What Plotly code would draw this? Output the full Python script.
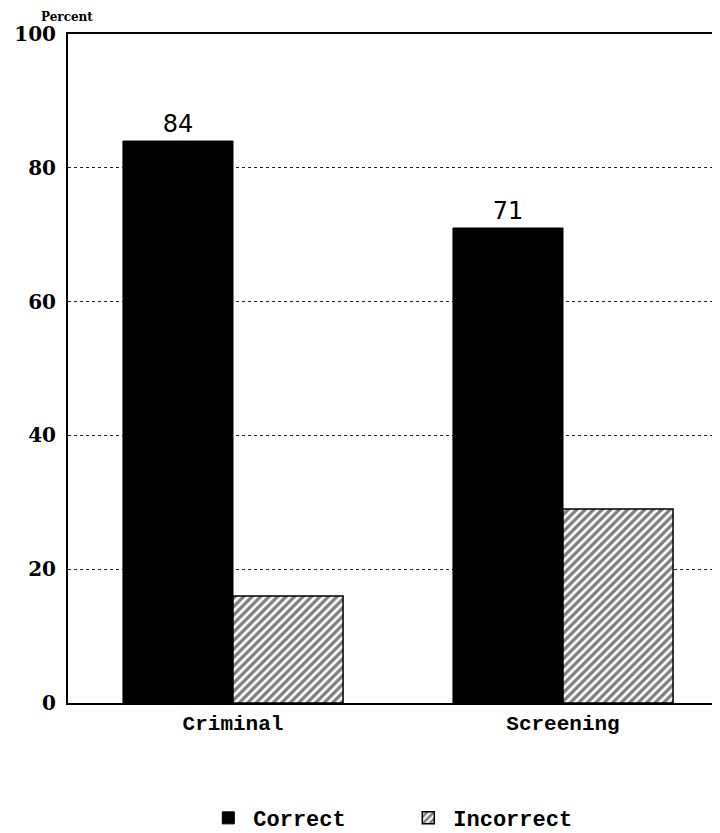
import plotly.graph_objects as go

categories = ["Criminal", "Screening"]
correct = [84, 71]
incorrect = [16, 29]
correct_labels = ["84", "71"]
y_ticks = [0, 20, 40, 60, 80, 100]

fig = go.Figure()
fig.add_trace(go.Bar(
    x=[0, 1], y=correct, name="Correct",
    marker=dict(color="black", line=dict(color="black", width=1)),
    text=correct_labels, textposition="outside",
    textfont=dict(family="DejaVu Sans", size=24, color="black"),
    cliponaxis=False,
))
fig.add_trace(go.Bar(
    x=[0, 1], y=incorrect, name="Incorrect",
    marker=dict(color="white", line=dict(color="black", width=1.5),
                pattern=dict(shape="/", fgcolor="black", bgcolor="white",
                             size=6, solidity=0.55)),
))

fig.update_layout(
    width=720, height=833,
    margin=dict(l=60, r=0, t=26, b=138, autoexpand=False),
    paper_bgcolor="white", plot_bgcolor="white",
    barmode="group", bargap=0.333, bargroupgap=0,
    showlegend=True,
    legend=dict(orientation="h", x=0.205, xanchor="left", xref="paper",
                y=-0.172, yanchor="middle",
                font=dict(family="Liberation Mono", size=22, color="black", weight="bold"),
                itemwidth=40, entrywidth=145, traceorder="normal"),
    xaxis=dict(
        range=[-0.5, 1.5], tickvals=[0, 1], ticktext=categories,
        showline=True, linecolor="black", linewidth=2, mirror=True,
        showgrid=False, ticks="", zeroline=False, automargin=False,
        tickfont=dict(family="Liberation Mono", size=21, color="black", weight="bold"),
    ),
    yaxis=dict(
        range=[0, 100], tickvals=y_ticks,
        showline=True, linecolor="black", linewidth=2,
        showgrid=True, gridcolor="#222222", griddash="dot", gridwidth=1,
        ticks="", zeroline=False, automargin=False, ticklabelstandoff=6,
        tickfont=dict(family="DejaVu Serif", size=20, color="black", weight="bold"),
    ),
    annotations=[dict(
        text="<b>Percent</b>", x=-0.042, y=1.037, xref="paper", yref="paper",
        showarrow=False, xanchor="left", yanchor="top", borderpad=0,
        font=dict(family="DejaVu Serif", size=12, color="black"),
    )],
)

fig.write_html("out.html")
